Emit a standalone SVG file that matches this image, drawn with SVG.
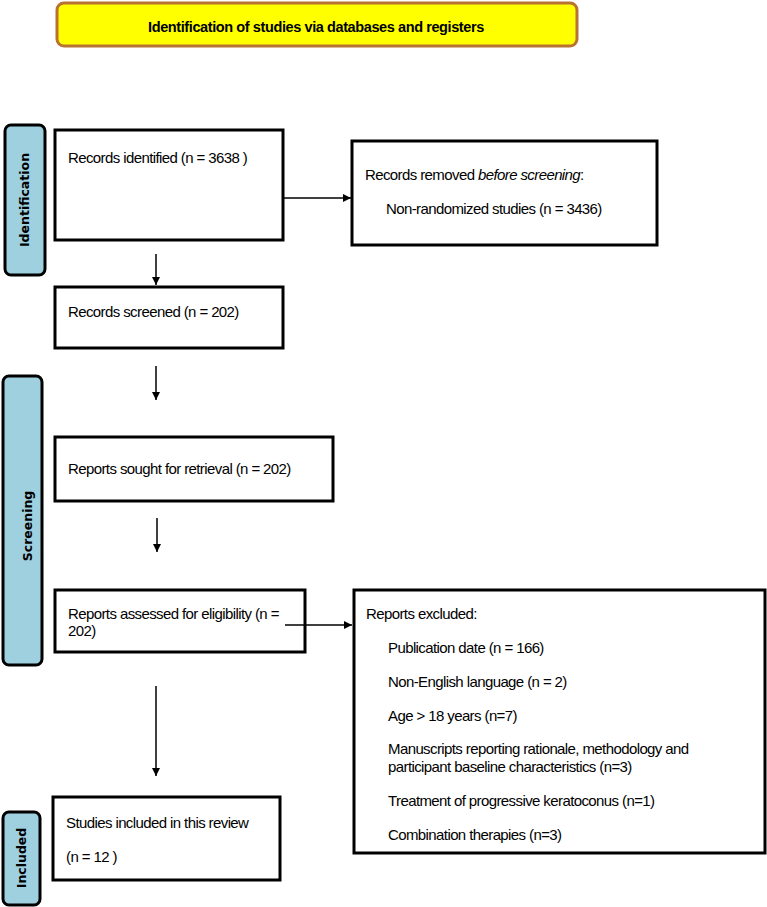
<svg xmlns="http://www.w3.org/2000/svg" width="767" height="907" viewBox="0 0 767 907">
<defs>
<style>
.box{fill:#fff;stroke:#000;stroke-width:3}
.side{fill:#9fd0e0;stroke:#000;stroke-width:3}
.t{font-family:"Liberation Sans",Arial,sans-serif;font-size:15px;letter-spacing:-0.6px;fill:#000}
.s{font-family:"DejaVu Sans",Verdana,sans-serif;font-size:12.5px;font-weight:bold;fill:#000}
.ln{stroke:#000;stroke-width:1.5;fill:none}
</style>
<marker id="ah" viewBox="0 0 10 10" refX="10" refY="5" markerWidth="8" markerHeight="9" markerUnits="userSpaceOnUse" orient="auto">
<path d="M0,0 L10,5 L0,10 z" fill="#000"/>
</marker>
</defs>
<rect width="767" height="907" fill="#fff"/>
<g id="title">
<rect x="57" y="3" width="520" height="43" rx="7" fill="#ffff00" stroke="#b87333" stroke-width="3"/>
<text x="316" y="32" text-anchor="middle" class="t" style="font-weight:bold;font-size:14.5px;letter-spacing:-0.4px">Identification of studies via databases and registers</text>
</g>
<g id="side-identification">
<rect x="5" y="125" width="40" height="150" rx="6" class="side"/>
<text class="s" transform="translate(29,200) rotate(-90)" text-anchor="middle">Identification</text>
</g>
<g id="side-screening">
<rect x="3" y="376" width="39" height="289" rx="6" class="side"/>
<text class="s" transform="translate(32,526) rotate(-90)" text-anchor="middle">Screening</text>
</g>
<g id="side-included">
<rect x="3" y="812" width="37" height="93" rx="6" class="side"/>
<text class="s" transform="translate(26,858) rotate(-90)" text-anchor="middle">Included</text>
</g>
<g id="records-identified">
<rect x="55" y="130" width="228" height="110" class="box"/>
<text x="68" y="163" class="t">Records identified (n = 3638 )</text>
</g>
<g id="records-removed">
<rect x="352" y="141" width="305" height="104" class="box"/>
<text x="365" y="180" class="t">Records removed <tspan font-style="italic">before screening</tspan>:</text>
<text x="386" y="214" class="t">Non-randomized studies (n = 3436)</text>
</g>
<g id="records-screened">
<rect x="55" y="287" width="228" height="61" class="box"/>
<text x="68" y="317" class="t">Records screened (n = 202)</text>
</g>
<g id="reports-sought">
<rect x="55" y="437" width="278" height="64" class="box"/>
<text x="68" y="474" class="t">Reports sought for retrieval (n = 202)</text>
</g>
<g id="reports-assessed">
<rect x="55" y="590" width="250" height="62" class="box"/>
<text x="68" y="619" class="t">Reports assessed for eligibility (n =</text>
<text x="68" y="636" class="t">202)</text>
</g>
<g id="reports-excluded">
<rect x="354" y="590" width="411" height="263" class="box"/>
<text x="366" y="619" class="t">Reports excluded:</text>
<text x="388" y="653" class="t">Publication date (n = 166)</text>
<text x="388" y="687" class="t">Non-English language (n = 2)</text>
<text x="388" y="721" class="t">Age &gt; 18 years (n=7)</text>
<text x="388" y="754" class="t">Manuscripts reporting rationale, methodology and</text>
<text x="388" y="772" class="t">participant baseline characteristics (n=3)</text>
<text x="388" y="806" class="t">Treatment of progressive keratoconus (n=1)</text>
<text x="388" y="840" class="t">Combination therapies (n=3)</text>
</g>
<g id="studies-included">
<rect x="53" y="797" width="227" height="83" class="box"/>
<text x="66" y="828" class="t">Studies included in this review</text>
<text x="66" y="862" class="t">(n = 12 )</text>
</g>
<g id="connectors">
<line x1="283" y1="198" x2="351" y2="198" class="ln" marker-end="url(#ah)"/>
<line x1="156" y1="254" x2="156" y2="285" class="ln" marker-end="url(#ah)"/>
<line x1="156" y1="366" x2="156" y2="400" class="ln" marker-end="url(#ah)"/>
<line x1="157" y1="518" x2="157" y2="552" class="ln" marker-end="url(#ah)"/>
<line x1="285" y1="625" x2="352" y2="625" class="ln" marker-end="url(#ah)"/>
<line x1="156" y1="686" x2="156" y2="776" class="ln" marker-end="url(#ah)"/>
</g>
</svg>
